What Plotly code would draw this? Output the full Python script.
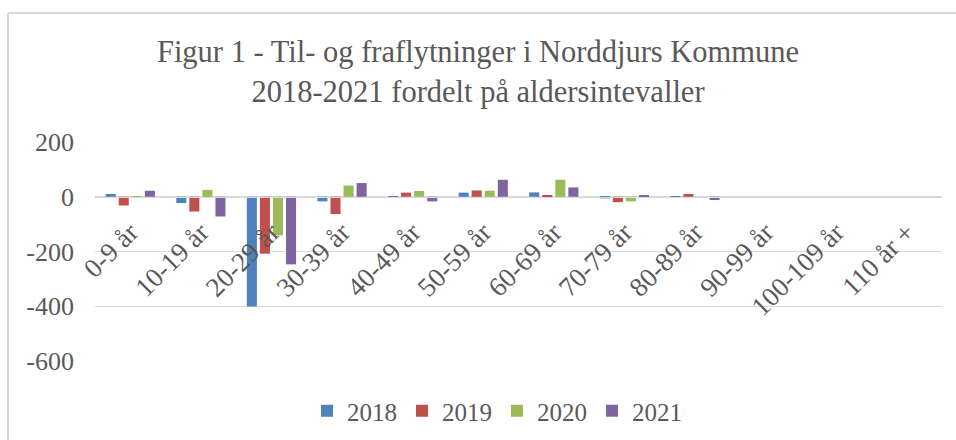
import plotly.graph_objects as go

categories = ["0-9 år", "10-19 år", "20-29 år", "30-39 år", "40-49 år", "50-59 år",
              "60-69 år", "70-79 år", "80-89 år", "90-99 år", "100-109 år", "110 år +"]
v2018 = [10, -23, -401, -17, 1, 15, 16, -6, 1, 0, 0, 0]
v2019 = [-32, -54, -208, -63, 15, 23, 6, -20, 10, 0, 0, 0]
v2020 = [-3, 25, -141, 41, 21, 22, 62, -17, 0, 0, 0, 0]
v2021 = [22, -72, -247, 50, -17, 62, 34, 3, -12, 0, 0, 0]
series_names = ["2018", "2019", "2020", "2021"]
colors = ["#4F81BD", "#C0504D", "#9BBB59", "#8064A2"]
y_ticks = [200, 0, -200, -400, -600]

FONT = "Liberation Serif"
GRAY = "#595959"

fig = go.Figure()
for name, vals, col in zip(series_names, [v2018, v2019, v2020, v2021], colors):
    fig.add_trace(go.Bar(x=categories, y=vals, name=name, marker_color=col,
                         marker_line_width=0))

W, H = 956, 440
L, R, T, B = 95, 14, 142, 79
pw, ph = W - L - R, H - T - B

fig.update_layout(
    width=W, height=H,
    margin=dict(l=L, r=R, t=T, b=B, autoexpand=False),
    paper_bgcolor="white", plot_bgcolor="white",
    font=dict(family=FONT, color=GRAY, size=24),
    title=dict(text="Figur 1 - Til- og fraflytninger i Norddjurs Kommune<br>2018-2021 fordelt på aldersintevaller",
               x=0.5, xanchor="center", y=1 - 62 / H, yanchor="middle",
               font=dict(family=FONT, size=30.5, color=GRAY), automargin=False),
    barmode="group", bargap=0.26, bargroupgap=0.23,
    showlegend=True,
    legend=dict(orientation="h", xref="container", x=497 / W, xanchor="center",
                yref="container", y=1 - 411 / H, yanchor="middle",
                font=dict(family=FONT, size=25, color=GRAY),
                itemwidth=30, tracegroupgap=0),
    xaxis=dict(anchor="free", position=0.75, showline=True, linecolor="#D9D9D9",
               linewidth=1, tickangle=-45, showgrid=False, ticks="", automargin=False,
               ticklabelstandoff=8,
               tickfont=dict(family=FONT, size=27, color=GRAY)),
    yaxis=dict(range=[-600, 200], tickvals=y_ticks, ticktext=[str(v) for v in y_ticks],
               showgrid=True, gridcolor="#D9D9D9", automargin=False,
               zeroline=False, ticks="", showline=False, ticklabelstandoff=20,
               tickfont=dict(family=FONT, size=26, color=GRAY)),
)

# outer chart frame (top and left edges visible)
x0 = (8 - L) / pw
y_top = 1 + (T - 13) / ph
fig.add_shape(type="line", xref="paper", yref="paper", x0=x0, x1=x0, y0=-1, y1=y_top,
              line=dict(color="#D9D9D9", width=2))
fig.add_shape(type="line", xref="paper", yref="paper", x0=x0, x1=1.2, y0=y_top, y1=y_top,
              line=dict(color="#D9D9D9", width=2))

fig.write_html("out.html", config={"displayModeBar": False},
               post_script="document.body.style.margin='0';")
